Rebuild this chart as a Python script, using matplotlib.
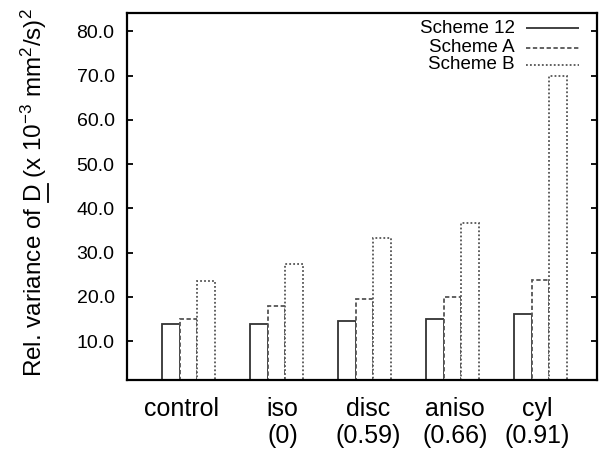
import numpy as np
import matplotlib.pyplot as plt
from matplotlib.lines import Line2D

# values
groups = ['control', 'iso\n(0)', 'disc\n(0.59)', 'aniso\n(0.66)', 'cyl\n(0.91)']
series = ['Scheme 12', 'Scheme A', 'Scheme B']
scheme12 = [13.9, 13.9, 14.5, 14.9, 16.1]
schemeA = [15.0, 18.0, 19.6, 20.0, 23.7]
schemeB = [23.5, 27.5, 33.3, 36.6, 69.9]
yticks = [10, 20, 30, 40, 50, 60, 70, 80]

plt.rcParams['font.family'] = ['Liberation Sans', 'DejaVu Sans']
plt.rcParams['mathtext.fontset'] = 'custom'
plt.rcParams['mathtext.rm'] = 'Liberation Sans'
plt.rcParams['mathtext.it'] = 'Liberation Sans'

W, H = 604, 449
fig = plt.figure(figsize=(W / 100, H / 100), dpi=100)
ax = fig.add_axes([0.2103, 0.1537, 0.9884 - 0.2103, 0.9717 - 0.1537])

x = np.arange(len(groups))
w = 0.2
styles = [(0, ()), (0, (2.4, 1.4)), (0, (1.0, 1.2))]
colors = ['#333333', '#555555', '#555555']
for k, vals in enumerate([scheme12, schemeA, schemeB]):
    ax.bar(x + (k - 1) * w, vals, w, bottom=0, facecolor='white',
           edgecolor=colors[k], linewidth=1.3, linestyle=styles[k])

ax.set_xlim(-0.70, 4.64)
ax.set_ylim(1.2, 84.2)
ax.set_yticks(yticks)
ax.set_yticklabels(['%.1f' % v for v in yticks], fontsize=14)
ax.tick_params(axis='y', direction='in', length=4, width=1.3, pad=9,
               left=True, right=True, colors='black')
ax.set_xticks(x + np.array([-0.08, 0.07, 0.04, 0.03, -0.04]))
ax.set_xticklabels(groups, fontsize=18)
ax.tick_params(axis='x', length=0, pad=12)
for sp in ax.spines.values():
    sp.set_linewidth(1.6)

# y label, anchored on its baseline; D gets an underline drawn by hand
ylab_fs = 17.5
x0, y0 = 42, 376.7   # pixels from left / top
fig.text(x0 / W, 1 - y0 / H,
         'Rel. variance of D (x 10$^{-3}$ mm$^{2}$/s)$^{2}$',
         rotation=90, rotation_mode='anchor', ha='left', va='baseline',
         fontsize=ylab_fs)
r = fig.canvas.get_renderer()
tmp1 = fig.text(0, 0, 'Rel. variance of D', fontsize=ylab_fs)
tmp2 = fig.text(0, 0, 'D', fontsize=ylab_fs)
d_end = tmp1.get_window_extent(r).width
d_start = d_end - tmp2.get_window_extent(r).width
tmp1.remove()
tmp2.remove()
fig.add_artist(Line2D([(x0 + 6) / W] * 2,
                      [1 - (y0 - d_start) / H, 1 - (y0 - d_end) / H],
                      transform=fig.transFigure, color='black', linewidth=1.3))

# gnuplot style key: right aligned text, sample on the right
ys = [0.958, 0.904, 0.858]
for k in range(3):
    ax.text(0.8255, ys[k], series[k], transform=ax.transAxes, ha='right',
            va='center', fontsize=13.5)
    ax.add_line(Line2D([0.850, 0.962], [ys[k], ys[k]], transform=ax.transAxes,
                       color=colors[k], linewidth=1.3, linestyle=styles[k]))

fig.savefig('out.png', dpi=100)
